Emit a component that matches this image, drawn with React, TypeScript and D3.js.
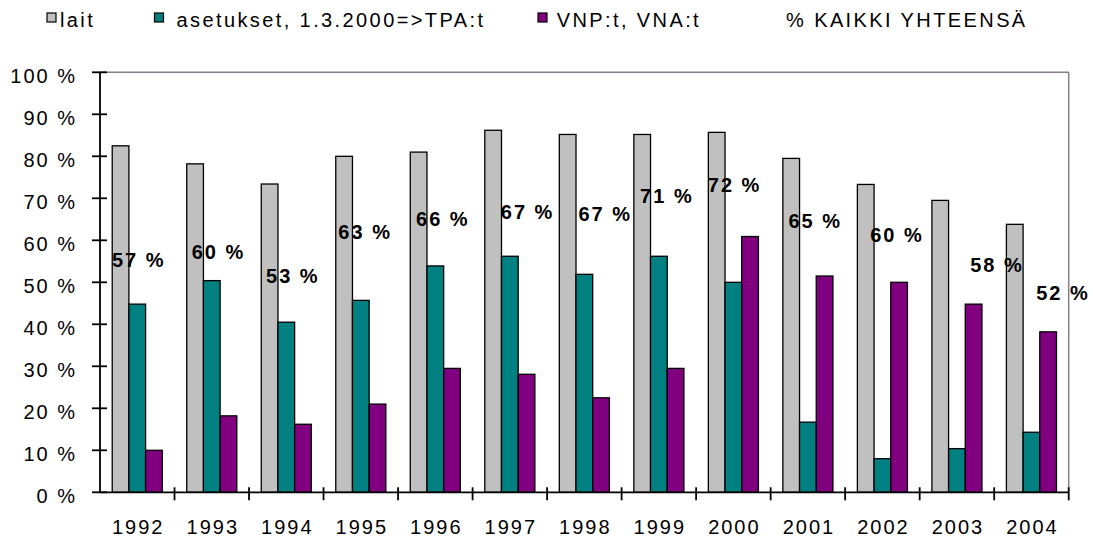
import React from "react";
import * as d3 from "d3";

const years = ["1992","1993","1994","1995","1996","1997","1998","1999","2000","2001","2002","2003","2004"];
const lait = [82.5, 78.2, 73.4, 80.0, 81.0, 86.2, 85.2, 85.2, 85.7, 79.5, 73.3, 69.5, 63.8];
const asetukset = [44.8, 50.4, 40.5, 45.7, 53.9, 56.2, 51.9, 56.2, 50.0, 16.7, 8.0, 10.4, 14.3];
const vnp = [10.0, 18.2, 16.2, 21.0, 29.5, 28.1, 22.5, 29.5, 60.9, 51.5, 50.0, 44.8, 38.2];
const totals = [57, 60, 53, 63, 66, 67, 67, 71, 72, 65, 60, 58, 52];
const yTicks = [0, 10, 20, 30, 40, 50, 60, 70, 80, 90, 100];
const seriesNames = ["lait", "asetukset, 1.3.2000=>TPA:t", "VNP:t, VNA:t", "% KAIKKI YHTEENSÄ"];
const seriesColors = ["#C0C0C0", "#008080", "#800080", "none"];

// manual label nudges (layout only): x offset from band start, y offset of baseline from value
const labelDx = [12, 17.2, 17, 14.8, 18, 28.2, 31.3, 18.5, 11.7, 17.8, 25, 50.5, 42];
const labelDy = [13.8, 19, 13.6, 11.6, 10.9, 8.4, 10.4, 9.2, 1.8, 8.4, 1.4, 23, 26];

const W = 1093, H = 537;
const left = 100, right = 1068.7, top = 72.3, bottom = 492.3;
const font = "Arial, 'Liberation Sans', Helvetica, sans-serif";

export default function App() {
  const x0 = d3.scaleBand<string>().domain(years).range([left, right]).padding(0);
  const bw = x0.bandwidth();
  const gap = bw * 0.164;
  const x1 = d3.scaleBand<number>().domain([0, 1, 2]).range([gap, bw - gap]).padding(0);
  const y = d3.scaleLinear().domain([0, 100]).range([bottom, top]);
  const series = [lait, asetukset, vnp];

  const legendBoxX = [47, 154.5, 538];
  const legendTextX = [60, 176.5, 556.7, 786];

  return (
    <svg width={W} height={H} style={{ position: "absolute", left: 0, top: 0, background: "#fff" }} fontFamily={font}>
      <rect x={0} y={0} width={W} height={H} fill="#fff" />
      {/* legend */}
      {seriesNames.map((n, i) => (
        <g key={n}>
          {i < 3 && (
            <rect x={legendBoxX[i]} y={13} width={9} height={9} fill={seriesColors[i]} stroke="#000" strokeWidth={1.2} />
          )}
          <text x={legendTextX[i]} y={27} fontSize={20} letterSpacing={2.4} fill="#000">{n}</text>
        </g>
      ))}
      {/* plot border top/right */}
      <line x1={left} x2={right} y1={top} y2={top} stroke="#877d8c" strokeWidth={1.5} />
      <line x1={right} x2={right} y1={top} y2={bottom} stroke="#877d8c" strokeWidth={1.5} />
      {/* bars */}
      {series.map((vals, si) =>
        vals.map((v, i) => (
          <rect
            key={`${si}-${i}`}
            x={(x0(years[i]) as number) + (x1(si) as number)}
            y={y(v)}
            width={x1.bandwidth()}
            height={y(0) - y(v)}
            fill={seriesColors[si]}
            stroke="#000"
            strokeWidth={1.3}
          />
        ))
      )}
      {/* total labels */}
      {totals.map((t, i) => (
        <text key={`t${i}`} x={(x0(years[i]) as number) + labelDx[i]} y={y(t) + labelDy[i]} fontSize={20} fontWeight="bold" letterSpacing={2} fill="#000">
          {`${t} %`}
        </text>
      ))}
      {/* y axis */}
      <line x1={left} x2={left} y1={top} y2={bottom} stroke="#000" strokeWidth={1.8} />
      {yTicks.map((t) => (
        <g key={`y${t}`}>
          <line x1={left - 8} x2={left + 7} y1={y(t)} y2={y(t)} stroke="#000" strokeWidth={1.8} />
          <text x={77} y={y(t) + 11} fontSize={20} letterSpacing={2} textAnchor="end" fill="#000">{`${t} %`}</text>
        </g>
      ))}
      {/* x axis */}
      <line x1={left} x2={right} y1={bottom} y2={bottom} stroke="#000" strokeWidth={1.8} />
      {years.map((yr, i) => (
        <g key={`x${yr}`}>
          <line x1={(x0(yr) as number) + bw} x2={(x0(yr) as number) + bw} y1={bottom - 5} y2={bottom + 8} stroke="#000" strokeWidth={1.8} />
          <text x={(x0(yr) as number) + bw / 2 + 1} y={534} fontSize={20} letterSpacing={2} textAnchor="middle" fill="#000">{yr}</text>
        </g>
      ))}
    </svg>
  );
}
